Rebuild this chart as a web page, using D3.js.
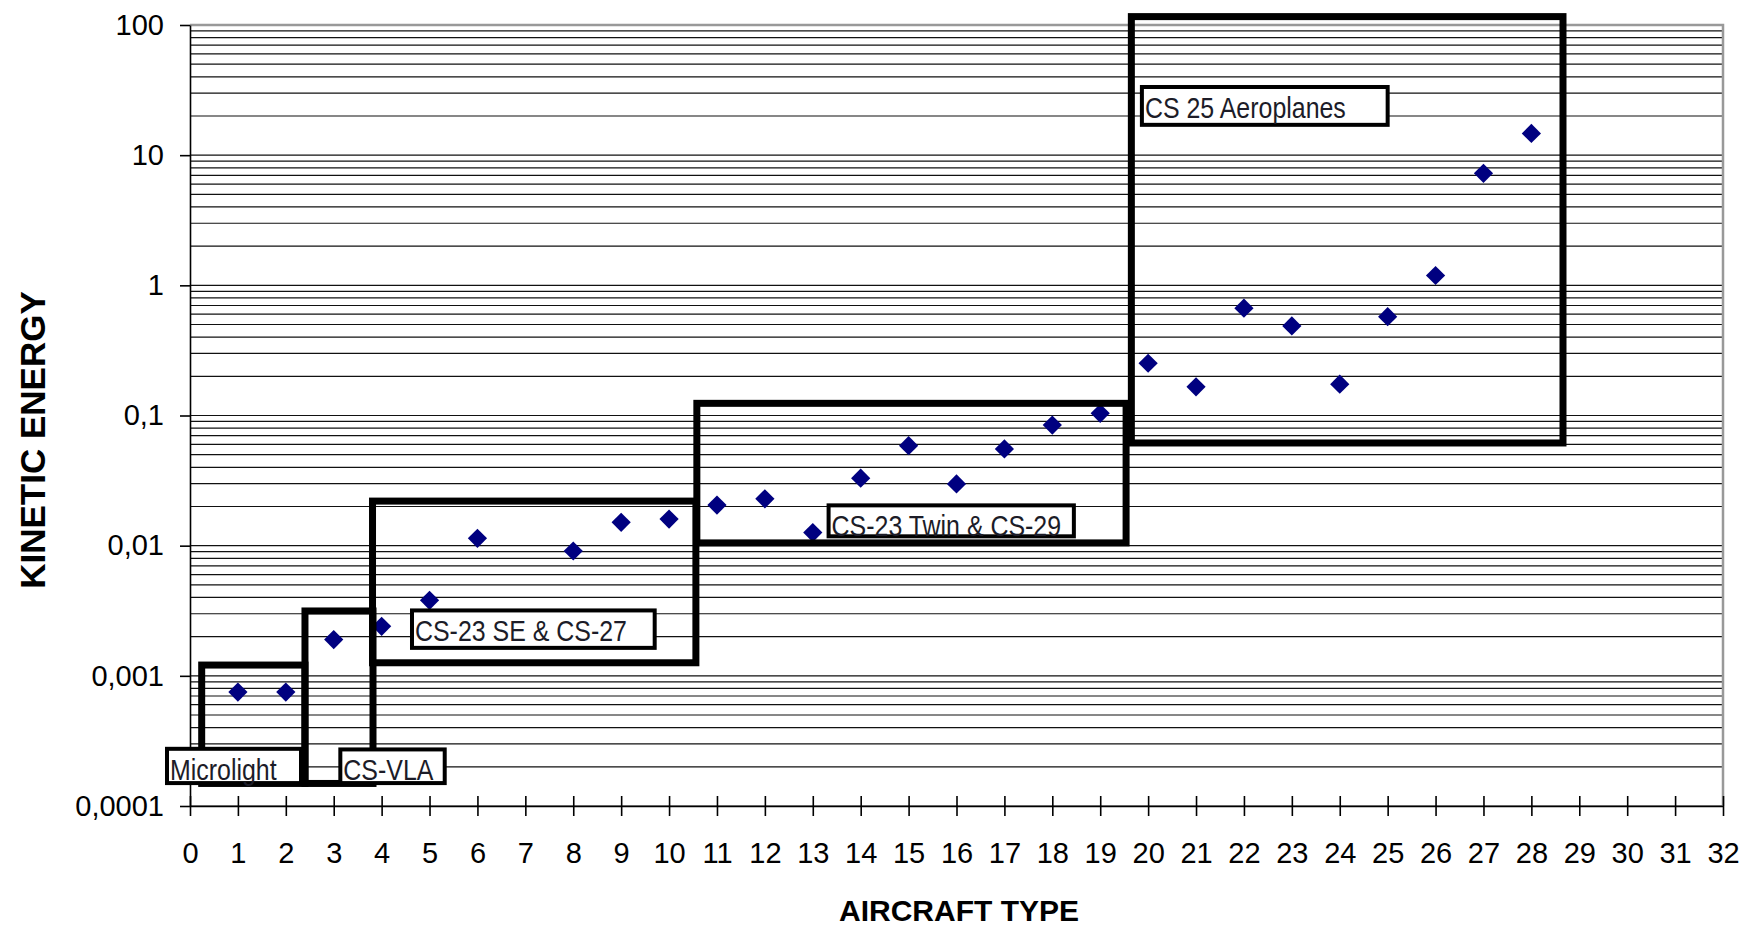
<!DOCTYPE html>
<html>
<head>
<meta charset="utf-8">
<script src="https://cdn.jsdelivr.net/npm/d3@7"></script>
<style>
  body { margin: 0; background: #fff; }
  text { font-family: "Liberation Sans", Arial, sans-serif; }
</style>
</head>
<body>
<div id="chart"></div>
<script>
// data
var aircraftType = [1, 2, 3, 4, 5, 6, 8, 9, 10, 11, 12, 13, 14, 15, 16, 17, 18, 19, 20, 21, 22, 23, 24, 25, 26, 27, 28];
var kineticEnergy = [0.00075, 0.00075, 0.0019, 0.0024, 0.0038, 0.0114, 0.0091, 0.0151, 0.016, 0.0205, 0.0229, 0.0126,
    0.033, 0.0586, 0.0298, 0.0553, 0.0845, 0.104, 0.252, 0.166, 0.667, 0.488, 0.174, 0.574, 1.19, 7.26, 14.7];

var xTickValues = [0, 1, 2, 3, 4, 5, 6, 7, 8, 9, 10, 11, 12, 13, 14, 15, 16, 17, 18, 19, 20, 21, 22, 23, 24, 25, 26, 27, 28, 29, 30, 31, 32];
var yTickValues = [0.0001, 0.001, 0.01, 0.1, 1, 10, 100];
var yTickLabels = ["0,0001", "0,001", "0,01", "0,1", "1", "10", "100"];

// certification categories: type range and energy range of each box
var regionNames = ["Microlight", "CS-VLA", "CS-23 SE & CS-27", "CS-23 Twin & CS-29", "CS 25 Aeroplanes"];
var regionX = [[0.244, 2.40], [2.40, 3.82], [3.81, 10.56], [10.58, 19.54], [19.65, 28.66]];
var regionY = [[0.000149, 0.00121], [0.000149, 0.00315], [0.00126, 0.0220], [0.0105, 0.124], [0.0615, 116]];
// where each category name sits (same units)
var labelX = [[-0.48, 2.317], [3.138, 5.317], [4.634, 9.70], [13.33, 18.45], [19.87, 25.0]];
var labelY = [[0.000150, 0.000275], [0.000150, 0.000272], [0.00164, 0.00318], [0.0118, 0.0204], [17.1, 33.4]];

var margin = {top: 25, right: 30, bottom: 120, left: 190},
    width = 1753 - margin.left - margin.right,
    height = 926 - margin.top - margin.bottom;

var svg = d3.select("#chart")
    .append("svg")
    .attr("width", width + margin.left + margin.right)
    .attr("height", height + margin.top + margin.bottom)
    .append("g")
    .attr("transform", `translate(${margin.left},${margin.top})`);

var xScale = d3.scaleLinear().domain([0, 32]).range([0, width]);
var yScale = d3.scaleLog().domain([0.0001, 100]).range([height, 0]);

// horizontal grid, every log step
svg.append("g")
    .selectAll("line")
    .data(yScale.ticks())
    .enter()
    .append("line")
    .attr("x1", 0)
    .attr("x2", width)
    .attr("y1", d => yScale(d))
    .attr("y2", d => yScale(d))
    .attr("stroke", "#111")
    .attr("stroke-width", 1.2);

// gray frame on top and right
svg.append("path")
    .attr("d", `M0,0H${width}V${height}`)
    .attr("fill", "none")
    .attr("stroke", "#999")
    .attr("stroke-width", 2.5);

// axes
var xAxis = svg.append("g")
    .attr("transform", `translate(0,${height})`)
    .call(d3.axisBottom(xScale).tickValues(xTickValues).tickSize(10).tickSizeOuter(0).tickPadding(26));
xAxis.selectAll(".tick line").attr("y1", -10).attr("y2", 10);

var yAxis = svg.append("g")
    .call(d3.axisLeft(yScale).tickValues(yTickValues).tickFormat((d, i) => yTickLabels[i])
        .tickSize(10).tickSizeOuter(0).tickPadding(16));

svg.selectAll(".domain").attr("stroke", "#000").attr("stroke-width", 1.6);
svg.selectAll(".tick line").attr("stroke", "#000").attr("stroke-width", 1.6);
svg.selectAll(".tick text")
    .attr("fill", "#000")
    .style("font-size", "29px")
    .style("font-family", "'Liberation Sans', Arial, sans-serif");

// points
svg.append("g")
    .selectAll("path")
    .data(aircraftType)
    .enter()
    .append("path")
    .attr("d", d3.symbol().type(d3.symbolSquare).size(185))
    .attr("transform", (d, i) => `translate(${xScale(d)},${yScale(kineticEnergy[i])}) rotate(45)`)
    .attr("fill", "#000080");

// category boxes
svg.append("g")
    .selectAll("rect")
    .data(regionNames)
    .enter()
    .append("rect")
    .attr("x", (d, i) => xScale(regionX[i][0]))
    .attr("width", (d, i) => xScale(regionX[i][1]) - xScale(regionX[i][0]))
    .attr("y", (d, i) => yScale(regionY[i][1]))
    .attr("height", (d, i) => yScale(regionY[i][0]) - yScale(regionY[i][1]))
    .attr("fill", "none")
    .attr("stroke", "#000")
    .attr("stroke-width", 7);

// category names
var labels = svg.append("g")
    .selectAll("g")
    .data(regionNames)
    .enter()
    .append("g");

labels.append("rect")
    .attr("x", (d, i) => xScale(labelX[i][0]))
    .attr("width", (d, i) => xScale(labelX[i][1]) - xScale(labelX[i][0]))
    .attr("y", (d, i) => yScale(labelY[i][1]))
    .attr("height", (d, i) => yScale(labelY[i][0]) - yScale(labelY[i][1]))
    .attr("fill", "#fff")
    .attr("stroke", "#000")
    .attr("stroke-width", 4);

// text hangs from the top of its box
labels.append("text")
    .attr("transform", (d, i) => `translate(${xScale(labelX[i][0]) + 3},${yScale(labelY[i][1]) + 31}) scale(0.86,1)`)
    .attr("fill", "#1c1c28")
    .style("font-size", "29px")
    .text(d => d);

// axis titles
svg.append("text")
    .attr("x", 959 - margin.left)
    .attr("y", 921 - margin.top)
    .attr("text-anchor", "middle")
    .style("font-size", "30px")
    .style("font-weight", "bold")
    .text("AIRCRAFT TYPE");

svg.append("text")
    .attr("transform", `translate(${45 - margin.left},${440 - margin.top}) rotate(-90)`)
    .attr("text-anchor", "middle")
    .style("font-size", "35px")
    .style("font-weight", "bold")
    .text("KINETIC ENERGY");
</script>
</body>
</html>
